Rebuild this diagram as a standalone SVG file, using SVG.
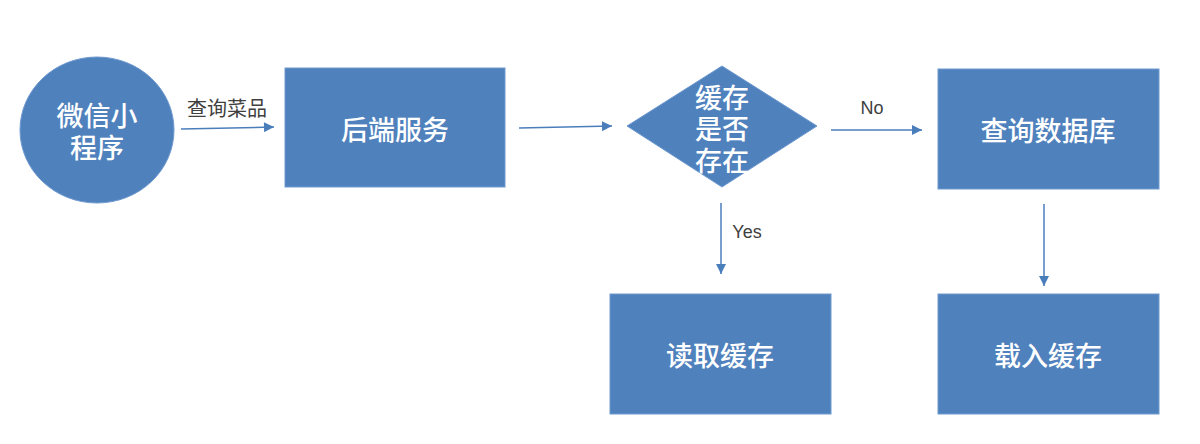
<svg xmlns="http://www.w3.org/2000/svg" width="1200" height="444" viewBox="0 0 1200 444">
<style>
.node{fill:#4F81BD;stroke:#6F9AD0;stroke-width:1}
.nt{font-family:"Noto Sans CJK SC","Noto Sans",sans-serif;font-size:27px;font-weight:500;fill:#ffffff;text-anchor:middle;dominant-baseline:central}
.lbl{font-family:"Noto Sans CJK SC","Noto Sans",sans-serif;font-size:20px;fill:#404040;text-anchor:middle;dominant-baseline:central}
.lbe{font-family:"Liberation Sans","Noto Sans",sans-serif;font-size:18px;fill:#404040;text-anchor:middle;dominant-baseline:central}
.edge{stroke:#4A7EBB;stroke-width:1.5;fill:none;marker-end:url(#arr)}
</style>
<defs>
<marker id="arr" viewBox="0 0 10 10" refX="10" refY="5" markerWidth="11" markerHeight="10" markerUnits="userSpaceOnUse" orient="auto">
<path d="M0,0 L10,5 L0,10 z" fill="#4A7EBB"/>
</marker>
</defs>
<rect width="1200" height="444" fill="#ffffff"/>
<g id="connectors">
<line class="edge" x1="181" y1="129" x2="274" y2="127"/>
<text class="lbl" x="227" y="107">查询菜品</text>
<line class="edge" x1="519" y1="128" x2="612" y2="126"/>
<line class="edge" x1="831" y1="130" x2="922" y2="130"/>
<text class="lbe" x="872" y="108">No</text>
<line class="edge" x1="721" y1="203" x2="721" y2="274"/>
<text class="lbe" x="747" y="232">Yes</text>
<line class="edge" x1="1044" y1="204" x2="1044" y2="286"/>
</g>
<g id="miniapp">
<ellipse class="node" cx="97" cy="130" rx="77" ry="73"/>
<text class="nt" x="97" y="114">微信小<tspan x="97" dy="32">程序</tspan></text>
</g>
<g id="backend">
<rect class="node" x="285" y="68" width="220" height="119"/>
<text class="nt" x="395" y="128">后端服务</text>
</g>
<g id="decision">
<polygon class="node" points="722,66 817,126 722,187 627,126"/>
<text class="nt" x="722" y="96">缓存<tspan x="722" dy="31">是否</tspan><tspan x="722" dy="32">存在</tspan></text>
</g>
<g id="querydb">
<rect class="node" x="938" y="69" width="221" height="120"/>
<text class="nt" x="1048" y="129">查询数据库</text>
</g>
<g id="readcache">
<rect class="node" x="610" y="294" width="221" height="120"/>
<text class="nt" x="720" y="354">读取缓存</text>
</g>
<g id="loadcache">
<rect class="node" x="938" y="294" width="221" height="120"/>
<text class="nt" x="1048" y="354">载入缓存</text>
</g>
</svg>
